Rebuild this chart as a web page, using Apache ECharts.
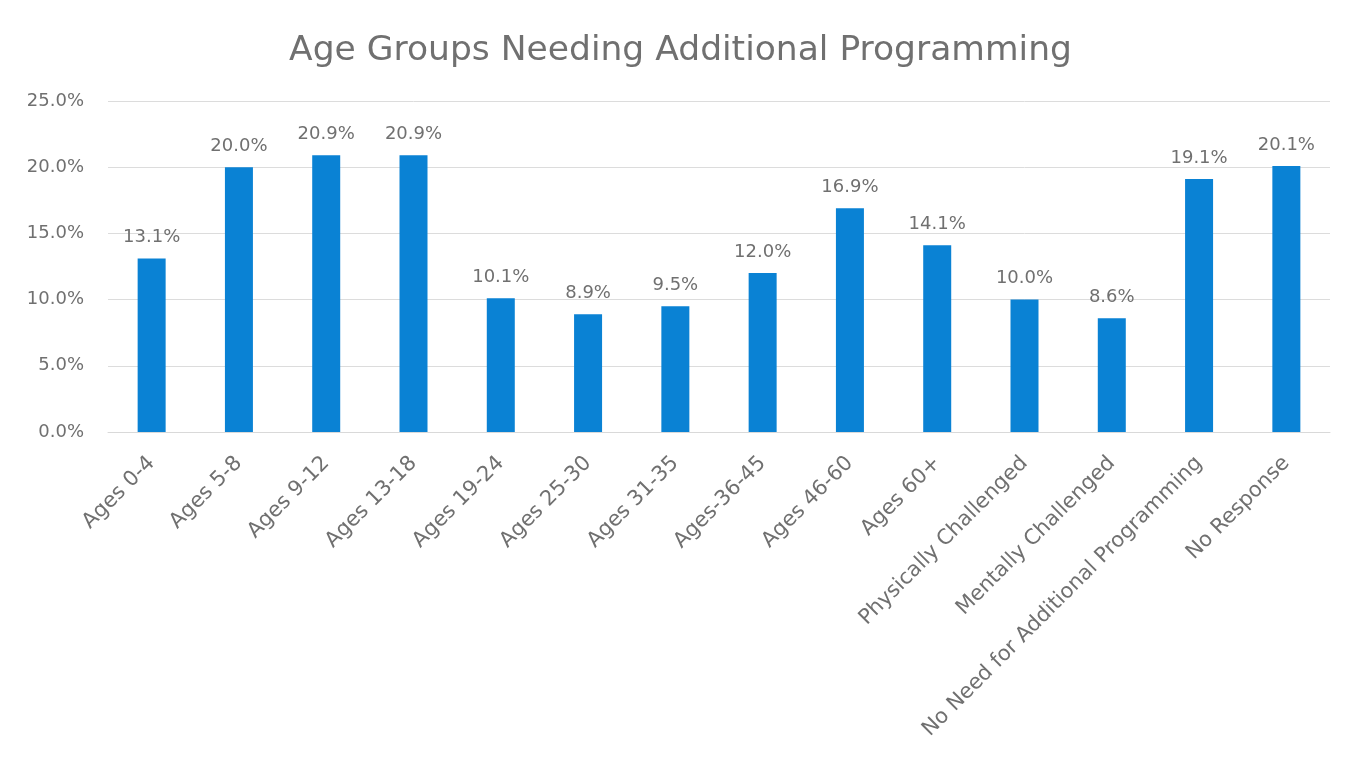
<!DOCTYPE html>
<html><head><meta charset="utf-8">
<script src="https://cdn.jsdelivr.net/npm/echarts@6/dist/echarts.min.js"></script>
<style>html,body{margin:0;padding:0;background:#fff}#c{width:1361px;height:769px}</style>
</head><body><div id="c"></div>
<script>
const categories = ["Ages 0-4","Ages 5-8","Ages 9-12","Ages 13-18","Ages 19-24","Ages 25-30","Ages 31-35","Ages-36-45","Ages 46-60","Ages 60+","Physically Challenged","Mentally Challenged","No Need for Additional Programming","No Response"];
const values = [13.1,20.0,20.9,20.9,10.1,8.9,9.5,12.0,16.9,14.1,10.0,8.6,19.1,20.1];
const titleText = "Age Groups Needing Additional Programming";
const chart = echarts.init(document.getElementById('c'));
const font = "'DejaVu Sans', sans-serif";
chart.setOption({
  animation:false,
  title:{text:titleText,left:'center',top:29,textStyle:{fontFamily:font,fontSize:34.5,fontWeight:'normal',color:'#707070'}},
  grid:{left:108,right:31,top:101,bottom:337,containLabel:false},
  xAxis:{type:'category',data:categories,
    axisLine:{show:true,lineStyle:{color:'#d9d9d9'}},axisTick:{show:false},
    axisLabel:{interval:0,rotate:45,margin:28,fontFamily:font,fontSize:21,color:'#707070'}},
  yAxis:{type:'value',min:0,max:25,interval:5,
    axisLine:{show:false},axisTick:{show:false},
    splitLine:{lineStyle:{color:'#dcdcdc'}},
    axisLabel:{margin:24,fontFamily:font,fontSize:18,color:'#707070',formatter:v=>v.toFixed(1)+'%'}},
  series:[{type:'bar',data:values,barWidth:28,itemStyle:{color:'#0a82d4'},
    label:{show:true,position:'top',distance:12,fontFamily:font,fontSize:18,color:'#707070',formatter:p=>p.value.toFixed(1)+'%'}}]
});
</script></body></html>
